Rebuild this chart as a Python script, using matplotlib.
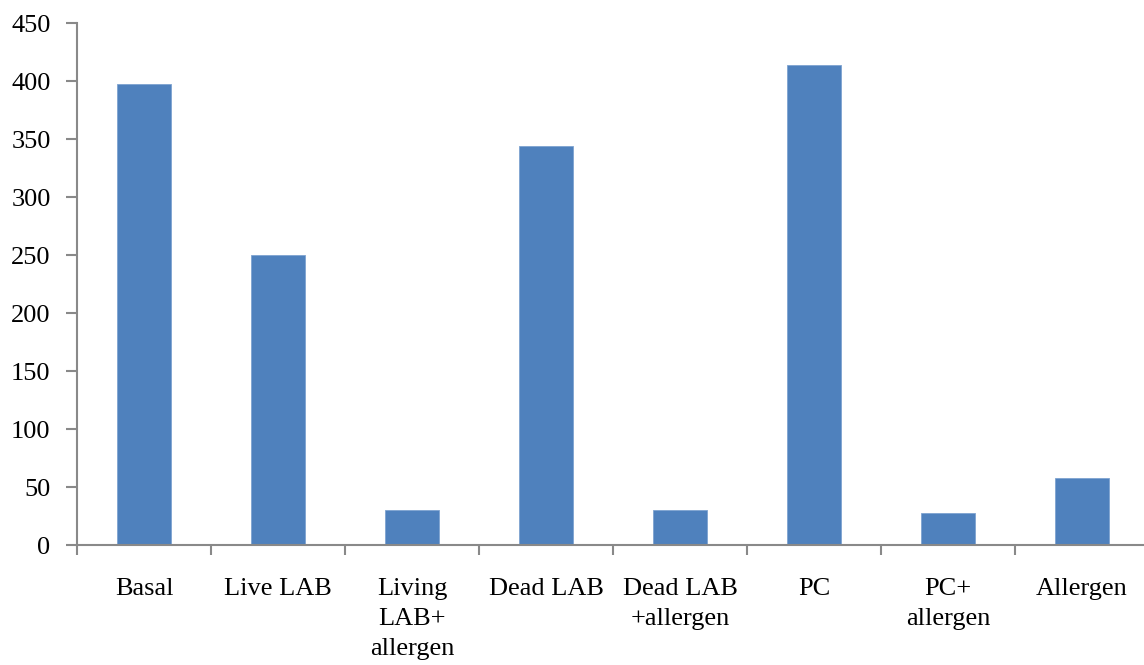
import matplotlib
matplotlib.use("Agg")
import matplotlib.pyplot as plt
import numpy as np

categories = ["Basal", "Live LAB", "Living\nLAB+\nallergen", "Dead LAB",
              "Dead LAB\n+allergen", "PC", "PC+\nallergen", "Allergen"]
values = [397, 250, 30, 344, 30, 414, 28, 58]

plt.rcParams['font.family'] = ['Liberation Serif', 'DejaVu Serif']

fig = plt.figure(figsize=(11.44, 6.65), dpi=100)
# axis runs past the right edge of the picture, as in the reference
ax = fig.add_axes([77/1144, 120/665, 8*134/1144, 522/665])

x = np.arange(len(categories))
ax.bar(x, values, width=0.4, color='#4F81BD', edgecolor='#7EA3D0', linewidth=0.6, zorder=2)

ax.set_xlim(-0.5, len(categories) - 0.5)
ax.set_ylim(0, 450)
ax.set_yticks(np.arange(0, 451, 50))

# category ticks sit between the bars, labels centred under bars
ax.set_xticks(np.arange(-0.5, len(categories), 1.0))
ax.set_xticklabels([])
ax.set_xticks(x, minor=True)
ax.set_xticklabels(categories, minor=True, fontsize=19, linespacing=1.45, va='top')
ax.tick_params(axis='x', which='minor', length=0, pad=24)
ax.tick_params(axis='x', which='major', length=7, width=1.5, color='#898989', direction='out')
ax.tick_params(axis='y', length=8, width=1.5, color='#898989', direction='out', labelsize=19, pad=11)

for s in ['top', 'right']:
    ax.spines[s].set_visible(False)
for s in ['left', 'bottom']:
    ax.spines[s].set_color('#898989')
    ax.spines[s].set_linewidth(1.5)

fig.savefig("out.png", dpi=100)
